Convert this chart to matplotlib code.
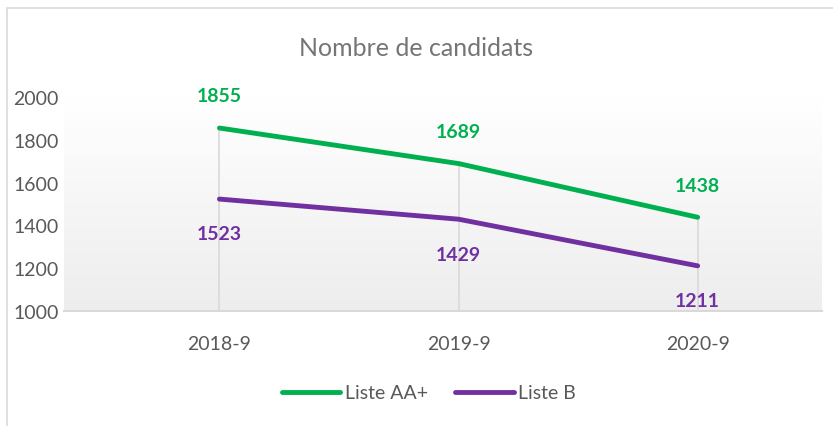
import numpy as np
import matplotlib.pyplot as plt
from matplotlib.patches import Rectangle

categories = ["2018-9", "2019-9", "2020-9"]
liste_aa = [1855, 1689, 1438]
liste_b = [1523, 1429, 1211]
y_ticks = [1000, 1200, 1400, 1600, 1800, 2000]

green = "#00B050"
purple = "#7030A0"
grey_txt = "#595959"

plt.rcParams['font.family'] = ['Lato', 'DejaVu Sans']

fig = plt.figure(figsize=(8.33, 4.27), dpi=100)
# outer chart border
fig.patches.append(Rectangle((7 / 833, -0.1), 1.0, 1 - 9 / 427 + 0.1, transform=fig.transFigure,
                             fill=False, edgecolor="#d9d9d9", linewidth=1.2))

ax = fig.add_axes([64 / 833, 1 - 312 / 427, (822 - 64) / 833, (312 - 98) / 427])
x = np.arange(len(categories))
ax.set_xlim(-0.65, 2.52)
ax.set_ylim(1000, 2000)

# plot area gradient, white at top to light grey at bottom
grad = np.linspace(1.0, 0.93, 100).reshape(-1, 1)
ax.imshow(np.dstack([grad, grad, grad]), extent=[-0.65, 2.52, 1000, 2000],
          aspect="auto", origin="upper", zorder=0)

# drop lines
for xi, top in zip(x, liste_aa):
    ax.plot([xi, xi], [1000, top], color="#d9d9d9", lw=1.2, zorder=1)

ax.plot(x, liste_aa, color=green, lw=3.5, solid_capstyle="round", label="Liste AA+", zorder=3)
ax.plot(x, liste_b, color=purple, lw=3.5, solid_capstyle="round", label="Liste B", zorder=3)

for xi, v in zip(x, liste_aa):
    ax.annotate(str(v), (xi, v), xytext=(0, 17), textcoords="offset points", ha="center",
                va="bottom", color=green, fontsize=14, fontweight="bold")
for xi, v in zip(x, liste_b):
    ax.annotate(str(v), (xi, v), xytext=(0, -19), textcoords="offset points", ha="center",
                va="top", color=purple, fontsize=14, fontweight="bold")

for s in ["top", "right", "left"]:
    ax.spines[s].set_visible(False)
ax.spines["bottom"].set_color("#d9d9d9")
ax.spines["bottom"].set_linewidth(1.5)

ax.set_xticks(x)
ax.set_xticklabels(categories)
ax.set_yticks(y_ticks)
ax.tick_params(axis="both", length=0, labelsize=14, colors=grey_txt)
ax.tick_params(axis="x", pad=17)
ax.tick_params(axis="y", pad=4)

fig.text(0.5, 1 - 49 / 427, "Nombre de candidats", ha="center", va="center",
         fontsize=18, color="#757575")

fig.legend(loc="center", bbox_to_anchor=(0.515, 1 - 394 / 427), ncol=2, frameon=False,
           fontsize=14, handlelength=3.0, handletextpad=0.25, columnspacing=1.4,
           labelcolor=grey_txt)

fig.savefig("out.png", dpi=100)
